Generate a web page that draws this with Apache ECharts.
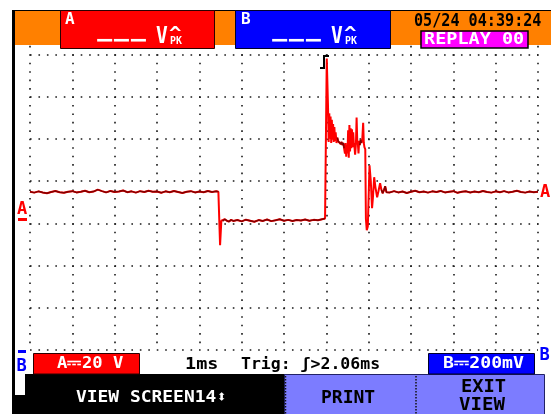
<!DOCTYPE html>
<html>
<head>
<meta charset="utf-8">
<script src="https://cdn.jsdelivr.net/npm/echarts@6/dist/echarts.min.js"></script>
<style>
html,body{margin:0;padding:0;background:#fff;}
#c{width:554px;height:414px;}
</style>
</head>
<body>
<div id="c"></div>
<script>
// ---- Data: channel A trace, time in ms (trigger at 0), volts (20 V/div) ----
var preTrigger = [
  [-7.0,14.9],[-6.9,14.5],[-6.8,15.1],[-6.7,14.6],[-6.6,14.2],[-6.5,14.8],[-6.4,15.3],[-6.3,14.7],
  [-6.2,14.4],[-6.1,14.9],[-6.0,15.2],[-5.9,14.6],[-5.8,14.9],[-5.7,15.4],[-5.6,14.7],[-5.5,15.0],
  [-5.4,15.9],[-5.3,15.2],[-5.2,14.6],[-5.1,15.3],[-5.0,14.8],[-4.9,15.0],[-4.8,15.5],[-4.7,14.7],
  [-4.6,15.1],[-4.5,14.5],[-4.4,15.2],[-4.3,14.8],[-4.2,15.4],[-4.1,14.9],[-4.0,15.0],[-3.9,14.4],
  [-3.8,15.1],[-3.7,14.7],[-3.6,15.3],[-3.5,14.8],[-3.4,14.3],[-3.3,14.9],[-3.2,15.2],[-3.1,14.6],
  [-3.0,15.0],[-2.9,14.7],[-2.8,15.3],[-2.7,14.8],[-2.6,15.1],[-2.55,14.9]
];
var dropEdge = [[-2.53,14.6],[-2.51,-10.4],[-2.48,1.2]];
var lowLevel = [
  [-2.45,1.0],[-2.40,1.9],[-2.35,1.2],[-2.30,0.8],[-2.25,1.6],[-2.20,1.1],[-2.10,1.5],[-2.00,0.9],
  [-1.90,1.7],[-1.80,1.2],[-1.70,0.7],[-1.60,1.5],[-1.50,1.1],[-1.40,1.8],[-1.30,1.0],[-1.20,1.4],
  [-1.10,1.9],[-1.00,1.2],[-0.90,1.6],[-0.80,1.1],[-0.70,1.5],[-0.60,1.3],[-0.50,1.8],[-0.40,1.2],
  [-0.30,1.6],[-0.20,1.4],[-0.10,1.9],[-0.03,2.2]
];
var riseSpike = [[0.00,2.4],[0.01,78.0],[0.03,78.0]];
var ringHigh = [
  [0.04,55.0],[0.055,38.5],[0.07,52.0],[0.085,40.0],[0.10,50.5],[0.115,38.0],[0.13,49.0],[0.145,39.5],
  [0.16,47.0],[0.175,38.5],[0.19,45.5],[0.205,39.0],[0.22,43.0],[0.24,38.0],[0.26,40.5],[0.28,38.8],
  [0.30,38.2],[0.32,39.0],[0.34,37.5],[0.36,38.5],[0.38,37.0],[0.40,38.0],[0.42,35.5],[0.44,33.0],
  [0.455,38.0],[0.47,31.5],[0.485,37.0],[0.50,33.0],[0.515,44.0],[0.53,31.0],[0.545,46.5],[0.56,34.0],
  [0.575,45.0],[0.59,35.5],[0.605,44.5],[0.62,36.0],[0.635,43.0],[0.65,37.5],[0.665,36.0],[0.68,32.5],
  [0.70,38.0],[0.715,50.0],[0.73,39.0],[0.745,37.5],[0.76,33.0],[0.775,39.0],[0.79,37.0],[0.81,39.5],
  [0.83,38.0],[0.85,40.0],[0.87,47.5],[0.885,38.0],[0.90,36.0],[0.92,35.0]
];
var ringLow = [
  [0.935,2.0],[0.955,-3.3],[0.98,-1.5],[1.02,27.4],[1.05,20.0],[1.08,7.1],[1.10,12.0],[1.13,21.8],
  [1.16,17.0],[1.20,12.3],[1.23,15.0],[1.27,18.9],[1.30,16.0],[1.33,14.2],[1.36,15.6],[1.39,17.5],
  [1.42,14.7],[1.45,15.3],[1.50,14.6]
];
var postTrigger = [
  [1.6,15.2],[1.7,14.6],[1.8,15.0],[1.9,14.3],[2.0,14.9],[2.1,15.4],[2.2,14.7],[2.3,15.0],[2.4,14.5],
  [2.5,15.1],[2.6,14.8],[2.7,15.3],[2.8,14.6],[2.9,14.9],[3.0,15.2],[3.1,14.4],[3.2,14.9],[3.3,15.1],
  [3.4,14.6],[3.5,15.0],[3.6,14.7],[3.7,15.3],[3.8,14.8],[3.9,14.5],[4.0,15.1],[4.1,14.7],[4.2,15.2],
  [4.3,14.6],[4.4,14.9],[4.5,15.4],[4.6,14.8],[4.7,14.5],[4.8,15.0],[4.9,14.7],[5.0,14.9]
];
var timeRange = [-7, 5];      // ms, 1 ms/div
var voltRange = [-60, 100];   // V, 20 V/div

// ---- Build ----
var trace = [].concat(preTrigger, dropEdge, lowLevel, riseSpike, ringHigh, ringLow, postTrigger);
var calm = trace.map(function (p, i) {
  var a = i > 0 ? Math.abs(p[1] - trace[i - 1][1]) : 0;
  var b = i < trace.length - 1 ? Math.abs(trace[i + 1][1] - p[1]) : 0;
  return (a < 3 && b < 3) ? p : [p[0], null];
});

var FONT = '"DejaVu Sans Mono", monospace';
function txt(s, x, y, size, color, sx, align) {
  return {
    type: 'text', x: x, y: y, scaleX: sx || 1, z: 110,
    style: { text: s, fill: color, font: 'bold ' + size + 'px ' + FONT,
             textAlign: align || 'left', textVerticalAlign: 'middle' }
  };
}
function rect(x, y, w, h, fill, stroke, lw) {
  return { type: 'rect', z: 100, shape: { x: x, y: y, width: w, height: h },
           style: { fill: fill, stroke: stroke || null, lineWidth: lw || 0 } };
}
function line(x1, y1, x2, y2, color, lw, dash) {
  return { type: 'line', z: 105, shape: { x1: x1, y1: y1, x2: x2, y2: y2 },
           style: { stroke: color, lineWidth: lw, lineDash: dash || null } };
}

var dotStyle = { color: '#1a1a1a', width: 1.6, type: [1.6, 6.85], cap: 'butt' };

var elements = [
  // header
  rect(12, 10, 539, 1.5, '#000'),
  rect(15, 11, 536, 34, '#FF8000'),
  rect(60.5, 10.5, 154, 38, '#FF0000', '#2a0000', 1),
  rect(235.5, 10.5, 155, 38, '#0000FF', '#00002a', 1),
  rect(421, 31, 107, 17, '#FF00FF', '#000', 1.5),
  // left frame
  rect(12, 10, 3, 404, '#000'),
  // bottom
  rect(15, 395, 12, 19, '#000'),
  rect(25, 374, 262, 40, '#000'),
  rect(284.5, 374.5, 260, 40, '#7C7CFF', '#222266', 1),
  line(416, 376, 416, 414, '#111', 1.5, [1.5, 1.5]),
  line(285.5, 376, 285.5, 414, '#111', 1.5, [1.5, 1.5]),
  rect(33.5, 353.5, 106, 20.5, '#FF0000', '#2a0000', 1),
  rect(428.5, 353.5, 106, 20.5, '#0000FF', '#00002a', 1),
  // markers
  rect(18, 350, 8, 3, '#0000FF'),
  rect(18, 218, 9, 3, '#FF0000'),
  { type: 'polyline', z: 105, shape: { points: [[320, 68], [324, 68], [324, 56], [329, 56]] },
    style: { stroke: '#000', lineWidth: 2, fill: null } },

  // header texts
  txt('A', 65, 19.5, 16, '#fff', 1.0),
  txt('−−−', 96, 41.5, 22, '#fff', 1.27),
  txt('V', 156, 37, 23, '#fff', 0.85),
  txt('^', 169, 34.5, 18, '#fff', 1.15),
  txt('PK', 170, 41, 11, '#fff', 0.9),
  txt('B', 241, 19.5, 16, '#fff', 1.0),
  txt('−−−', 271, 41.5, 22, '#fff', 1.27),
  txt('V', 331, 37, 23, '#fff', 0.85),
  txt('^', 344, 34.5, 18, '#fff', 1.15),
  txt('PK', 345, 41, 11, '#fff', 0.9),
  txt('05/24 04:39:24', 414, 21, 18, '#000', 0.84),
  txt('REPLAY 00', 424, 40, 16.5, '#fff', 1.12),

  // channel markers
  txt('A', 540, 193, 17, '#FF0000', 1.0),
  txt('A', 17, 209.5, 17, '#FF0000', 1.0),
  txt('B', 16.5, 366.5, 17, '#0000FF', 1.0),
  txt('B', 539.5, 355.5, 17, '#0000FF', 1.0),

  // bottom texts
  txt('A⎓20 V', 57, 364, 16.5, '#fff', 1.04),
  txt('1ms', 185, 364.5, 16.5, '#000', 1.12),
  txt('Trig: ʃ>2.06ms', 241, 364.5, 16.5, '#000', 1.0),
  txt('B⎓200mV', 443, 364, 16.5, '#fff', 1.1),
  txt('VIEW SCREEN14⬍', 76, 398, 16, '#fff', 1.12),
  txt('PRINT', 321, 398, 18, '#000', 1.0),
  txt('EXIT', 461, 387.5, 18, '#000', 1.04),
  txt('VIEW', 459, 405, 18, '#000', 1.06)
];

var chart = echarts.init(document.getElementById('c'), null, { renderer: 'canvas' });
chart.setOption({
  animation: false,
  backgroundColor: '#ffffff',
  grid: { left: 30, top: 12, width: 508, height: 338, show: false },
  xAxis: {
    type: 'value', min: timeRange[0], max: timeRange[1], interval: 1,
    axisLine: { show: false }, axisTick: { show: false }, axisLabel: { show: false },
    splitLine: { show: true, lineStyle: dotStyle }
  },
  yAxis: {
    type: 'value', min: voltRange[0], max: voltRange[1], interval: 20,
    axisLine: { show: false }, axisTick: { show: false }, axisLabel: { show: false },
    splitLine: { show: true, lineStyle: dotStyle }
  },
  series: [
    { name: 'A envelope', type: 'line', data: trace, showSymbol: false, z: 3,
      lineStyle: { color: '#FF0000', width: 2 } },
    { name: 'A', type: 'line', data: calm, showSymbol: false, connectNulls: false, z: 4,
      lineStyle: { color: '#800000', width: 1.5 } }
  ],
  graphic: { elements: elements }
});
</script>
</body>
</html>
